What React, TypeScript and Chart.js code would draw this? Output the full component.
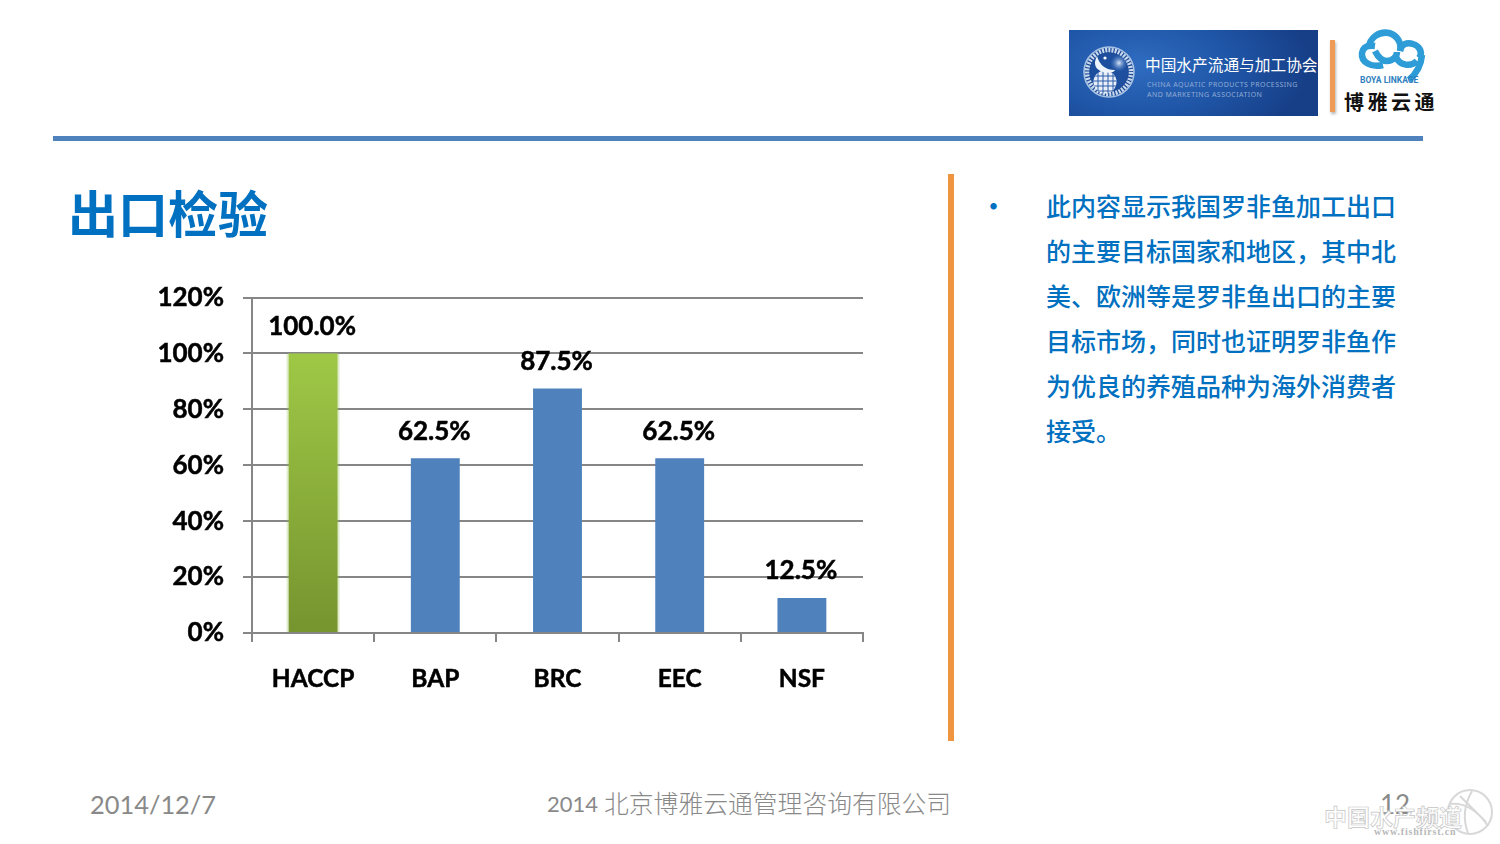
import React, { useEffect, useRef } from "react";
import { Chart, registerables } from "chart.js";

Chart.register(...registerables);

const categories = ["HACCP", "BAP", "BRC", "EEC", "NSF"];
const values = [100, 62.5, 87.5, 62.5, 12.5];
const valueLabels = ["100.0%", "62.5%", "87.5%", "62.5%", "12.5%"];
const bulletLines = [
  "此内容显示我国罗非鱼加工出口",
  "的主要目标国家和地区，其中北",
  "美、欧洲等是罗非鱼出口的主要",
  "目标市场，同时也证明罗非鱼作",
  "为优良的养殖品种为海外消费者",
  "接受。",
];

const LABEL_FONT = "bold 26px Lato, 'Noto Sans', sans-serif";
const CJK = "'Noto Sans CJK SC', sans-serif";

const labelPlugin = {
  id: "valueLabels",
  beforeDatasetsDraw(chart: any) {
    const { ctx } = chart;
    const bar = chart.getDatasetMeta(0).data[0];
    ctx.save();
    ctx.fillStyle = "rgba(150,190,80,0.3)";
    ctx.fillRect(bar.x - 26.5, bar.y, 53, bar.base - bar.y);
    ctx.restore();
  },
  afterDatasetsDraw(chart: any) {
    const { ctx } = chart;
    const meta = chart.getDatasetMeta(0);
    ctx.save();
    ctx.font = LABEL_FONT;
    ctx.fillStyle = "#000";
    ctx.strokeStyle = "#000";
    ctx.lineWidth = 0.5;
    ctx.textAlign = "center";
    ctx.textBaseline = "middle";
    meta.data.forEach((bar: any, i: number) => {
      ctx.fillText(valueLabels[i], bar.x - 1, bar.y - 27);
      ctx.strokeText(valueLabels[i], bar.x - 1, bar.y - 27);
    });
    ctx.restore();
  },
};

function Abs({ style, children }: any) {
  return <div style={{ position: "absolute", whiteSpace: "nowrap", ...style }}>{children}</div>;
}

export default function App() {
  const ref = useRef<HTMLCanvasElement>(null);

  useEffect(() => {
    document.body.style.margin = "0";
    const chart = new Chart(ref.current!, {
      type: "bar",
      data: {
        labels: categories,
        datasets: [
          {
            data: values,
            barPercentage: 0.4,
            categoryPercentage: 1,
            borderWidth: 0,
            backgroundColor: (c: any) => {
              if (c.dataIndex !== 0) return "#4f81bd";
              const s = c.chart.scales.y;
              const top = s ? s.getPixelForValue(100) : NaN;
              const bottom = s ? s.getPixelForValue(0) : NaN;
              if (!Number.isFinite(top) || !Number.isFinite(bottom)) return "#8cb03c";
              const g = c.chart.ctx.createLinearGradient(0, top, 0, bottom);
              g.addColorStop(0, "#9fc846");
              g.addColorStop(1, "#76942f");
              return g;
            },
          },
        ],
      },
      options: {
        animation: false,
        responsive: false,
        devicePixelRatio: 1,
        layout: { padding: { top: 0, right: 27, left: 0, bottom: 0 } },
        plugins: { legend: { display: false }, tooltip: { enabled: false } },
        scales: {
          x: {
            afterFit: (s: any) => { s.height = 87; },
            grid: { drawOnChartArea: false, color: "#868686", lineWidth: 2, tickLength: 9 },
            border: { color: "#868686", width: 2 },
            ticks: {
              color: "#000",
              font: { family: "Lato", weight: "bold", size: 24.5 },
              padding: 22,
              maxRotation: 0,
              textStrokeColor: "#000",
              textStrokeWidth: 0.5,
            },
          },
          y: {
            min: 0,
            max: 120,
            afterFit: (s: any) => { s.width = 122; },
            grid: { color: "#868686", lineWidth: 2, tickLength: 9 },
            border: { color: "#868686", width: 2 },
            ticks: {
              stepSize: 20,
              color: "#000",
              padding: 19,
              font: { family: "Lato", weight: "bold", size: 26 },
              textStrokeColor: "#000",
              textStrokeWidth: 0.5,
              callback: (v: any) => v + "%",
            },
          },
        },
      } as any,
      plugins: [labelPlugin],
    });
    return () => chart.destroy();
  }, []);

  return (
    <div style={{ position: "relative", width: 1500, height: 844, overflow: "hidden", background: "#fff" }}>
      {/* association logo */}
      <Abs style={{ left: 1069, top: 30, width: 249, height: 86, background: "radial-gradient(ellipse 170px 90px at 70px 35px,#2f6cc0 0%,#1f55a6 55%,#173f88 100%)", overflow: "hidden" }}>
        <svg width="80" height="86" style={{ position: "absolute", left: 0, top: 0 }}>
          <defs>
            <clipPath id="globe"><circle cx="36" cy="52" r="11.5" /></clipPath>
            <radialGradient id="glow"><stop offset="0" stopColor="#dbe8f8" /><stop offset="1" stopColor="#3a72c4" stopOpacity="0" /></radialGradient>
          </defs>
          <circle cx="40" cy="42" r="25" fill="#1d4a94" stroke="#a9c3e4" strokeWidth="1.5" />
          <circle cx="40" cy="42" r="22" fill="none" stroke="#c9daf0" strokeWidth="4.5" strokeDasharray="2 1.2" />
          <circle cx="40" cy="42" r="19" fill="#1d4f9e" />
          <circle cx="50" cy="33" r="9" fill="url(#glow)" />
          <circle cx="36" cy="52" r="11.5" fill="#e8eff8" />
          <g clipPath="url(#globe)" stroke="#2d5da8" strokeWidth="1" fill="none">
            <path d="M24 46H48M24 51H48M24 56H48M24 61H48M29 40V64M34 40V64M39 40V64M44 40V64" />
          </g>
          <path d="M28 26 Q22 38 34 42 Q44 44 46 40 Q32 40 28 26Z" fill="#eef4fb" />
          <circle cx="36" cy="28" r="1.6" fill="#fff" />
        </svg>
        <div style={{ position: "absolute", left: 76, top: 25, font: `15.7px ${CJK}`, color: "#fff", lineHeight: "20px" }}>中国水产流通与加工协会</div>
        <div style={{ position: "absolute", left: 78, top: 50, font: "7px 'Noto Sans'", letterSpacing: 0.45, color: "#8faad4", lineHeight: "10px" }}>
          CHINA AQUATIC PRODUCTS PROCESSING<br />AND MARKETING ASSOCIATION
        </div>
      </Abs>
      <Abs style={{ left: 1330, top: 40, width: 5, height: 72, background: "#ef9b55", boxShadow: "1px 2px 3px rgba(0,0,0,.3)" }} />
      {/* Boya logo */}
      <svg width="95" height="64" style={{ position: "absolute", left: 1345, top: 24 }}>
        <g fill="none" stroke="#2e9cd6" strokeWidth="6.5">
          <path d="M38 41 C26 44 16 38 17 29 C18 23 22 21 30 22" />
          <path d="M24 24 C24 14 34 7 44 9 C52 11 57 19 55 27" />
          <path d="M30 27 C32 31 36 37 42 37 C48 37 52 32 52 28" />
          <path d="M55 27 C56 20 62 18 68 20 C75 22 78 29 74 34" />
          <path d="M51 33 C55 42 66 43 72 37 M77 31 C76 42 71 50 64 56" />
        </g>
        <rect x="14" y="51" width="46" height="9" fill="#fff" />
        <text x="15" y="59" fontFamily="'Liberation Sans Narrow',Roboto" fontSize="8.5" fontWeight="bold" fill="#2e7fc0">BOYA LINKAGE</text>
      </svg>
      <Abs style={{ left: 1344, top: 88, font: `bold 20px ${CJK}`, letterSpacing: 3.5, lineHeight: "28px", color: "#111" }}>博雅云通</Abs>
      {/* header rule */}
      <Abs style={{ left: 53, top: 136, width: 1370, height: 5, background: "#4f81bd" }} />
      {/* title */}
      <Abs style={{ left: 68, top: 176, font: `bold 50px ${CJK}`, lineHeight: "70px", color: "#0070c0" }}>出口检验</Abs>
      {/* chart */}
      <canvas ref={ref} width={760} height={457} style={{ position: "absolute", left: 130, top: 263, width: 760, height: 457 }} />
      {/* side panel */}
      <Abs style={{ left: 948, top: 174, width: 6, height: 567, background: "#f0953f" }} />
      <Abs style={{ left: 981, top: 183, font: `bold 25px ${CJK}`, lineHeight: "45px", color: "#0070c0" }}>•</Abs>
      {bulletLines.map((line, i) => (
        <Abs key={i} style={{ left: 1046, top: 183 + i * 45, font: `500 25px ${CJK}`, lineHeight: "45px", color: "#0070c0" }}>{line}</Abs>
      ))}
      {/* footer */}
      <Abs style={{ left: 90, top: 786, font: "25.4px Lato", lineHeight: "36px", color: "#898989" }}>2014/12/7</Abs>
      <Abs style={{ left: 547, top: 786, font: "22px Lato", lineHeight: "36px", color: "#898989" }}>2014</Abs>
      <Abs style={{ left: 604, top: 784, font: `300 24.8px ${CJK}`, lineHeight: "36px", color: "#898989" }}>北京博雅云通管理咨询有限公司</Abs>
      <Abs style={{ left: 1380, top: 786, font: "26px Lato", lineHeight: "36px", color: "#898989" }}>12</Abs>
      {/* watermark */}
      <svg width="60" height="56" style={{ position: "absolute", left: 1442, top: 784 }}>
        <g fill="none" stroke="#d8d8d8" strokeWidth="2">
          <circle cx="28" cy="28" r="22" />
          <path d="M8 20 Q30 18 46 42 M30 7 Q18 28 26 49 M18 12 L44 38" />
        </g>
      </svg>
      <Abs style={{ left: 1324, top: 801, font: `bold 23px ${CJK}`, lineHeight: "30px", color: "#fff", WebkitTextStroke: "0.7px #c4c4c4" }}>中国水产频道</Abs>
      <Abs style={{ left: 1374, top: 826, font: "bold 10px 'Liberation Serif'", letterSpacing: 0.8, lineHeight: "12px", color: "#b8b8b8" }}>www.fishfirst.cn</Abs>
    </div>
  );
}
